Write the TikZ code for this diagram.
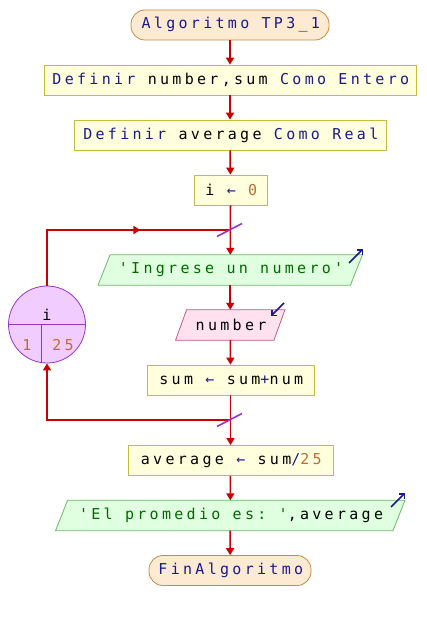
\documentclass[tikz,border=0pt]{standalone}
\usepackage{fontspec}
\setmonofont[LetterSpace=22]{DejaVu Sans Mono}
\usetikzlibrary{arrows.meta,backgrounds,decorations.markings}
\definecolor{flow}{HTML}{CC0000}
\definecolor{kw}{HTML}{1A1A8C}
\definecolor{num}{HTML}{B8703A}
\definecolor{str}{HTML}{006A00}
\definecolor{termfill}{HTML}{FCEBD2}
\definecolor{termdraw}{HTML}{C88A40}
\definecolor{procfill}{HTML}{FFFFDD}
\definecolor{procdraw}{HTML}{C4BC3C}
\definecolor{infill}{HTML}{E0FFE0}
\definecolor{indraw}{HTML}{66BB66}
\definecolor{rdfill}{HTML}{FFE2EE}
\definecolor{rddraw}{HTML}{C05A88}
\definecolor{loopfill}{HTML}{F0CCFF}
\definecolor{loopdraw}{HTML}{9933CC}
\tikzset{
  term/.style={draw=termdraw, fill=termfill, rounded corners=14pt, minimum height=30pt, inner sep=0pt, line width=0.8pt},
  proc/.style={draw=procdraw, fill=procfill, minimum height=30pt, inner sep=0pt, line width=0.8pt},
  iotext/.style={minimum height=30pt, inner sep=0pt},
  inshape/.style={draw=indraw, fill=infill, line width=0.8pt},
  rdshape/.style={draw=rddraw, fill=rdfill, line width=0.8pt},
  flowline/.style={draw=flow, line width=1.6pt},
  arr/.style={-{Triangle[length=7pt,width=8pt]}},
  slashmark/.style={draw=loopdraw, line width=1.6pt},
  icon/.style={draw=kw, line width=1.5pt, -{Straight Barb[length=4pt,width=8pt]}},
  midarrow/.style={postaction={decorate, decoration={markings, mark=at position #1 with {\arrow{Triangle[length=7pt,width=8pt]}}}}}
}
\begin{document}
\begin{tikzpicture}[x=1pt,y=-1pt, font=\ttfamily\fontsize{15}{17}\selectfont]
\useasboundingbox (0,0) rectangle (426,620);

\node[term, minimum width=198pt] (start) at (230,25) {\hspace{1.6pt}{\color{kw}Algoritmo TP3\_1}};
\node[proc, minimum width=372pt] (b1) at (230,80) {\hspace{1.6pt}{\color{kw}Definir} number,sum {\color{kw}Como Entero}};
\node[proc, minimum width=312pt] (b2) at (230,135) {\hspace{1.6pt}{\color{kw}Definir} average {\color{kw}Como Real}};
\node[proc, minimum width=73pt] (b3) at (230.5,190) {\hspace{1.6pt}i {\color{kw}←} {\color{num}0}};
\coordinate (j1) at (230,230);
\node[iotext, minimum width=252pt] (in1) at (230.25,270) {\hspace{1.6pt}\color{str}'Ingrese un numero'};
\node[iotext, minimum width=98pt] (rd) at (230.25,325) {\hspace{1.6pt}number};
\node[proc, minimum width=167pt] (sum) at (230.5,380) {\hspace{1.6pt}sum {\color{kw}←} sum{\color{kw}+}num};
\coordinate (j2) at (230,420);
\node[proc, minimum width=205pt] (avg) at (230.5,460.5) {\hspace{1.6pt}average {\color{kw}←} sum{\color{kw}/}{\color{num}25}};
\node[iotext, minimum width=337pt] (out) at (230.25,515.5) {\hspace{1.6pt}{\color{str}'El promedio es: '},average};
\node[term, minimum width=162pt] (end) at (230,570.5) {\hspace{1.6pt}{\color{kw}FinAlgoritmo}};

\begin{scope}[on background layer]
\fill[white] (0,0) rectangle (426,620);
\draw[inshape] ([xshift=6pt]in1.north west) -- ([xshift=6pt]in1.north east) -- ([xshift=-6pt]in1.south east) -- ([xshift=-6pt]in1.south west) -- cycle;
\draw[rdshape] ([xshift=5.5pt]rd.north west) -- ([xshift=5.5pt]rd.north east) -- ([xshift=-5.5pt]rd.south east) -- ([xshift=-5.5pt]rd.south west) -- cycle;
\draw[inshape] ([xshift=6pt]out.north west) -- ([xshift=6pt]out.north east) -- ([xshift=-6pt]out.south east) -- ([xshift=-6pt]out.south west) -- cycle;
\end{scope}

% loop counter circle
\node[circle, draw=loopdraw, fill=loopfill, line width=0.8pt, minimum size=77pt, inner sep=0pt] (loopc) at (47,324.5) {};
\draw[draw=loopdraw, line width=0.8pt] (loopc.west) -- (loopc.east);
\draw[draw=loopdraw, line width=0.8pt] (41,324.5) -- (41,362.5);
\node[inner sep=0pt] (lv) at (47,315) {i};
\node[inner sep=0pt] (lfrom) at (27,345) {\color{num}1};
\node[inner sep=0pt] (lto) at (63,345) {\color{num}25};

% main flow
\draw[flowline,arr] (start) -- (b1);
\draw[flowline,arr] (b1) -- (b2);
\draw[flowline,arr] (b2) -- (b3);
\draw[flowline,arr] (b3) -- (in1);
\draw[flowline,arr] (in1) -- (rd);
\draw[flowline,arr] (rd) -- (sum);
\draw[flowline,arr] (sum) -- (avg);
\draw[flowline,arr] (avg) -- (out);
\draw[flowline,arr] (out) -- (end);

% loop lines
\draw[flowline, midarrow=149pt] (loopc.north) |- (j1);
\draw[flowline,arr] (j2) -| (loopc.south);

% slash marks
\draw[slashmark] (217,236.5) -- (242,223.5);
\draw[slashmark] (217,426.5) -- (242,413.5);

% io icons
\draw[icon] (349,263) -- (363,249);
\draw[icon] (284,303) -- (271,316);
\draw[icon] (391,507) -- (405,493);
\end{tikzpicture}
\end{document}
